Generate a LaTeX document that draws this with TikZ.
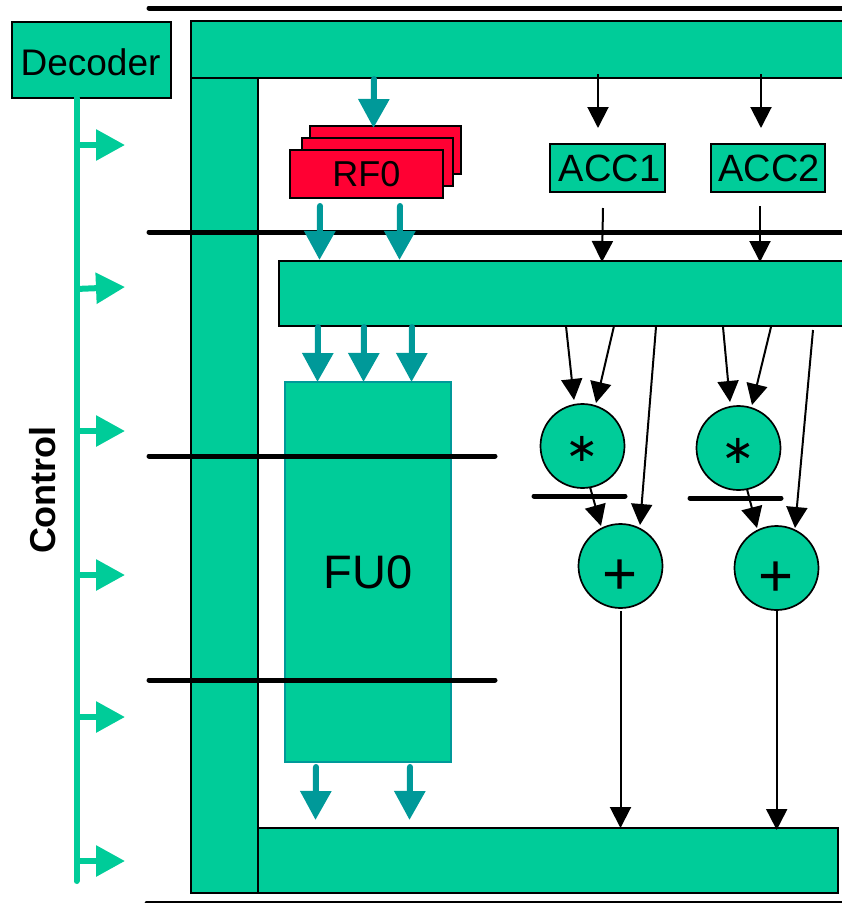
\documentclass[tikz,border=0pt]{standalone}
\usepackage{fontspec}
\setmainfont{Liberation Sans}
\newfontfamily\symfont{DejaVu Sans}
\usetikzlibrary{arrows.meta}
\definecolor{busgreen}{HTML}{00CC99}
\definecolor{teal}{HTML}{009999}
\definecolor{rfred}{HTML}{FF0033}
\tikzset{
  box/.style={draw=black,fill=busgreen,line width=1.7pt,inner sep=0pt,outer sep=0pt,anchor=north west},
  rfbox/.style={box,fill=rfred,minimum height=48pt},
  opnode/.style={circle,draw=black,fill=busgreen,line width=1.7pt,minimum size=84pt,inner sep=0pt},
  bus/.style={line width=5pt,line cap=round},
  thinarrow/.style={line width=2pt,-{Triangle[length=21pt,width=21pt]}},
  tealarrow/.style={draw=teal,line width=6pt,line cap=round,-{Triangle[length=29pt,width=30pt,fill=teal]}},
  ctrlarrow/.style={draw=busgreen,line width=6pt,-{Triangle[length=29pt,width=30pt,fill=busgreen]}}
}
\begin{document}
\begin{tikzpicture}[x=1pt,y=-1pt]
\useasboundingbox (0,0) rectangle (842,903);
\clip (0,0) rectangle (842,903);
\fontsize{36pt}{40pt}\selectfont
% buses
\node[box,minimum width=670pt,minimum height=57pt] (topbus) at (191,21) {};
\node[box,minimum width=67pt,minimum height=815pt] (leftbus) at (191,78) {};
\node[box,minimum width=580pt,minimum height=65pt] (botbus) at (258,828) {};
\node[box,minimum width=580pt,minimum height=65pt] (midbus) at (279,261) {};
% decoder and control
\node[box,minimum width=159pt,minimum height=76pt] (decoder) at (12,22) {};
\node[font=\fontsize{37pt}{40pt}\selectfont] at ([xshift=-1pt,yshift=-2pt]decoder.center) {Decoder};
\coordinate (ctrltop) at (76.5,98); \coordinate (ctrlend) at (76.5,881);
\draw[draw=busgreen,line width=6pt,line cap=round] (ctrltop)--(ctrlend);
\coordinate (c1) at (76,145); \coordinate (t1) at (125,145);
\coordinate (c2) at (76,289); \coordinate (t2) at (125,287);
\coordinate (c3) at (76,431); \coordinate (t3) at (125,431);
\coordinate (c4) at (76,575); \coordinate (t4) at (125,575);
\coordinate (c5) at (76,717); \coordinate (t5) at (125,717);
\coordinate (c6) at (76,861); \coordinate (t6) at (125,861);
\draw[ctrlarrow] (c1)--(t1);
\draw[ctrlarrow] (c2)--(t2);
\draw[ctrlarrow] (c3)--(t3);
\draw[ctrlarrow] (c4)--(t4);
\draw[ctrlarrow] (c5)--(t5);
\draw[ctrlarrow] (c6)--(t6);
\node[rotate=90,font=\bfseries] (control) at (43,490) {Control};
% register file
\node[rfbox,minimum width=151pt] (rfback) at (310,126) {};
\node[rfbox,minimum width=151pt] (rfmid) at (302,138) {};
\node[rfbox,minimum width=153pt] (rf) at (290,150) {};
\node at (rf.center) {RF0};
% accumulators
\node[box,minimum width=115pt,minimum height=48pt] (acc1) at (550,144) {};
\node[font=\fontsize{38pt}{40pt}\selectfont] at ([xshift=2pt]acc1.center) {ACC1};
\node[box,minimum width=114pt,minimum height=48pt] (acc2) at (711,144) {};
\node[font=\fontsize{38pt}{40pt}\selectfont] at ([xshift=1pt]acc2.center) {ACC2};
% functional unit
\node[box,draw=teal,minimum width=166pt,minimum height=380pt] (fu) at (285,382) {};
\node[font=\fontsize{47pt}{50pt}\selectfont] at (fu.center) {FU0};
% pipeline latches
\coordinate (l1a) at (149,8); \coordinate (l1b) at (850,8);
\coordinate (l2a) at (149,232); \coordinate (l2b) at (850,232);
\coordinate (l3a) at (149,456); \coordinate (l3b) at (495,456);
\coordinate (l4a) at (149,680); \coordinate (l4b) at (495,680);
\coordinate (l5a) at (147,903); \coordinate (l5b) at (850,903);
\coordinate (l6a) at (534,496); \coordinate (l6b) at (625,496);
\coordinate (l7a) at (690,498); \coordinate (l7b) at (781,498);
\draw[bus] (l1a)--(l1b);
\draw[bus] (l2a)--(l2b);
\draw[bus] (l3a)--(l3b);
\draw[bus] (l4a)--(l4b);
\draw[bus] (l5a)--(l5b);
\draw[bus] (l6a)--(l6b);
\draw[bus] (l7a)--(l7b);
% multipliers and adders
\node[opnode] (mul1) at (582.5,446) {};
\node[opnode] (mul2) at (738.5,448) {};
\node[opnode] (add1) at (620.5,566) {};
\node[opnode] (add2) at (776.5,568) {};
\node[font=\symfont\fontsize{40pt}{40pt}\selectfont] at ([yshift=-3pt]mul1.center) {∗};
\node[font=\symfont\fontsize{40pt}{40pt}\selectfont] at ([yshift=-3pt]mul2.center) {∗};
\node[font=\fontsize{60pt}{60pt}\selectfont] at ([yshift=-11pt]add1.center) {+};
\node[font=\fontsize{60pt}{60pt}\selectfont] at ([yshift=-11pt]add2.center) {+};
% wide arrows
\coordinate (a1) at (374,79); \coordinate (a1e) at (373.5,128);
\coordinate (a2) at (320,206); \coordinate (a2e) at (319.5,260);
\coordinate (a3) at (400,206); \coordinate (a3e) at (399.5,260);
\coordinate (a4) at (318,327); \coordinate (a4e) at (317.5,382);
\coordinate (a5) at (364,327); \coordinate (a5e) at (363.5,382);
\coordinate (a6) at (412,327); \coordinate (a6e) at (411.5,382);
\coordinate (a7) at (316,767); \coordinate (a7e) at (315.5,820);
\coordinate (a8) at (410,767); \coordinate (a8e) at (409.5,820);
\draw[tealarrow] (a1)--(a1e);
\draw[tealarrow] (a2)--(a2e);
\draw[tealarrow] (a3)--(a3e);
\draw[tealarrow] (a4)--(a4e);
\draw[tealarrow] (a5)--(a5e);
\draw[tealarrow] (a6)--(a6e);
\draw[tealarrow] (a7)--(a7e);
\draw[tealarrow] (a8)--(a8e);
% thin arrows
\coordinate (b1) at (598,74); \coordinate (b1e) at (598,128);
\coordinate (b2) at (761,74); \coordinate (b2e) at (761,128);
\coordinate (b3) at (603,208); \coordinate (b3e) at (602,262);
\coordinate (b4) at (760,206); \coordinate (b4e) at (760,262);
\coordinate (b5) at (566,326); \coordinate (b5e) at (574,400);
\coordinate (b6) at (614,326); \coordinate (b6e) at (596,403);
\coordinate (b7) at (656,327); \coordinate (b7e) at (640,525);
\coordinate (b8) at (723,327); \coordinate (b8e) at (730,402);
\coordinate (b9) at (771,327); \coordinate (b9e) at (752,405);
\coordinate (b10) at (813,330); \coordinate (b10e) at (795,528);
\coordinate (b11) at (590,487); \coordinate (b11e) at (601,526);
\coordinate (b12) at (747,489); \coordinate (b12e) at (757,528);
\coordinate (b13) at (620.5,611); \coordinate (b13e) at (620.5,828);
\coordinate (b14) at (776.7,611); \coordinate (b14e) at (776.7,830);
\draw[thinarrow] (b1)--(b1e);
\draw[thinarrow] (b2)--(b2e);
\draw[thinarrow] (b3)--(b3e);
\draw[thinarrow] (b4)--(b4e);
\draw[thinarrow] (b5)--(b5e);
\draw[thinarrow] (b6)--(b6e);
\draw[thinarrow] (b7)--(b7e);
\draw[thinarrow] (b8)--(b8e);
\draw[thinarrow] (b9)--(b9e);
\draw[thinarrow] (b10)--(b10e);
\draw[thinarrow] (b11)--(b11e);
\draw[thinarrow] (b12)--(b12e);
\draw[thinarrow] (b13)--(b13e);
\draw[thinarrow] (b14)--(b14e);
\end{tikzpicture}
\end{document}
